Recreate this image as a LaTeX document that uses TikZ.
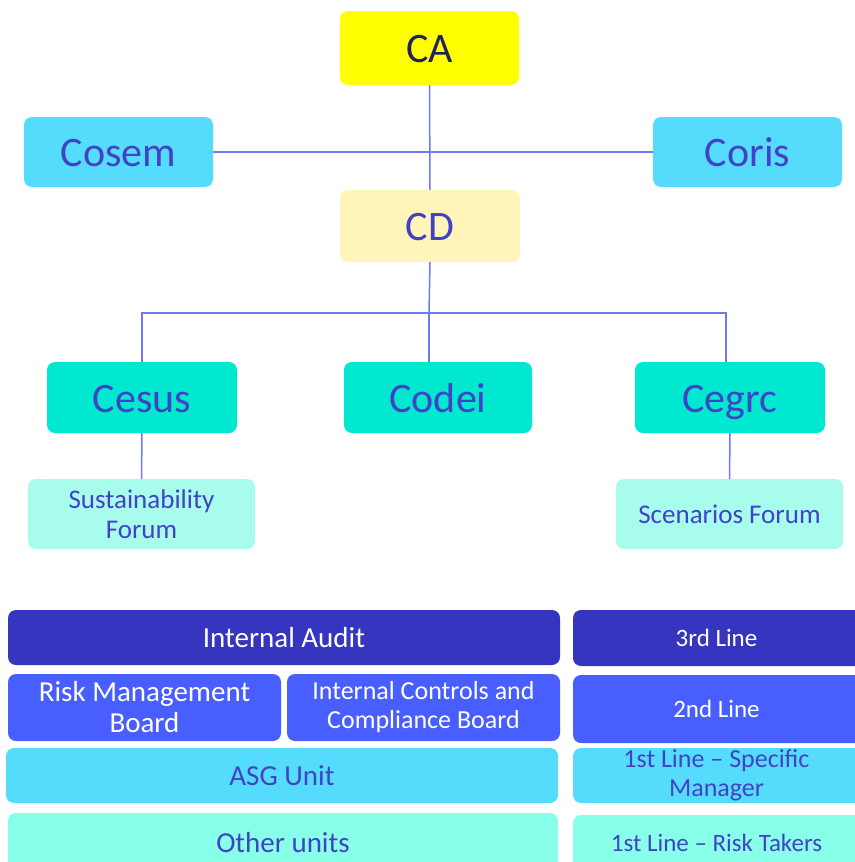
\documentclass[tikz,border=0pt]{standalone}
\usepackage{fontspec}
\setmainfont{Carlito}
\usetikzlibrary{calc}
\definecolor{caY}{HTML}{FFFF00}
\definecolor{cyanB}{HTML}{55DCFC}
\definecolor{creamB}{HTML}{FFF5BA}
\definecolor{tealB}{HTML}{00E8CF}
\definecolor{paleB}{HTML}{A8FCEC}
\definecolor{indigoB}{HTML}{3535C0}
\definecolor{blueB}{HTML}{485EFE}
\definecolor{mintB}{HTML}{88FFE8}
\definecolor{txtB}{HTML}{4242C6}
\definecolor{txtD}{HTML}{22225C}
\definecolor{lineB}{HTML}{6D7BF2}
\tikzset{
  box/.style={rounded corners=8pt, inner sep=0pt, outer sep=0pt, align=center},
  big/.style={font=\fontsize{42}{46}\selectfont, text=txtB, text height=29pt, text depth=0pt},
  mid/.style={font=\fontsize{27}{30}\selectfont, text=txtB},
  low/.style={font=\fontsize{29}{31}\selectfont},
  sml/.style={font=\fontsize{25}{29}\selectfont, align=center},
  conn/.style={draw=lineB, line width=1.5pt},
}
% \bx{name}{x1}{y1}{x2}{y2}{style}{text}
\newcommand{\bx}[7]{%
  \node[box,#6, minimum width={#4-#2}, minimum height={#5-#3}] (#1) at ({(#2+#4)/2},{(#3+#5)/2}) {#7};}
\begin{document}
\begin{tikzpicture}[x=1pt,y=-1pt]
\useasboundingbox (0,0) rectangle (854,862);
% top tree
\bx{CA}{340}{11}{519}{85}{fill=caY,big,text=txtD}{CA}
\bx{Cosem}{24}{117}{213}{187}{fill=cyanB,big}{Cosem}
\bx{Coris}{653}{117}{842}{187}{fill=cyanB,big}{Coris}
\bx{CD}{340}{190}{520}{262}{fill=creamB,big}{CD}
\bx{Cesus}{47}{362}{237}{433}{fill=tealB,big}{Cesus}
\bx{Codei}{344}{362}{532}{433}{fill=tealB,big}{Codei}
\bx{Cegrc}{635}{362}{825}{433}{fill=tealB,big}{Cegrc}
\bx{Sust}{28}{479}{255}{549}{fill=paleB,mid}{Sustainability\\Forum}
\bx{Scen}{616}{479}{843}{549}{fill=paleB,mid}{Scenarios Forum}
% connectors
\coordinate (j) at (429,313);
\draw[conn] (CA.south) -- (CD.north);
\draw[conn] (Cosem.east) -- (Coris.west);
\draw[conn] (CD.south) -- (j);
\draw[conn] (j) -| (Cesus.north);
\draw[conn] (j) -| ([xshift=-4pt]Cegrc.north);
\draw[conn] (j) -- (j |- Codei.north);
\draw[conn] (Cesus.south) -- (Sust.north);
\draw[conn] (Cegrc.south) -- (Scen.north);
% lower table
\bx{IA}{8}{610}{560}{665}{fill=indigoB,low,text=white}{Internal Audit}
\bx{RMB}{8}{674}{281}{741}{fill=blueB,low,text=white}{Risk Management\\Board}
\bx{ICCB}{287}{674}{560}{741}{fill=blueB,font=\fontsize{26}{29}\selectfont,text=white}{Internal Controls and\\Compliance Board}
\bx{ASG}{6}{748}{558}{803}{fill=cyanB,low,text=txtB}{ASG Unit}
\bx{Oth}{8}{813}{558}{880}{fill=mintB,low,text=txtB}{}
\node[low,text=txtB] (othT) at (283,843) {Other units};
% right column (runs past the right edge)
\bx{L3}{573}{610}{880}{666}{fill=indigoB}{}
\bx{L2}{573}{675}{880}{743}{fill=blueB}{}
\bx{L1S}{573}{748}{880}{803}{fill=cyanB}{}
\bx{L1R}{573}{815}{880}{880}{fill=mintB}{}
\node[sml,text=white] (L3t) at (716.5,638) {3rd Line};
\node[sml,text=white] (L2t) at (716.5,709) {2nd Line};
\node[font=\fontsize{26}{29}\selectfont,align=center,text=txtB] (L1St) at (716.5,775.5) {1st Line – Specific\\Manager};
\node[sml,text=txtB] (L1Rt) at (716.5,843) {1st Line – Risk Takers};
\end{tikzpicture}
\end{document}
